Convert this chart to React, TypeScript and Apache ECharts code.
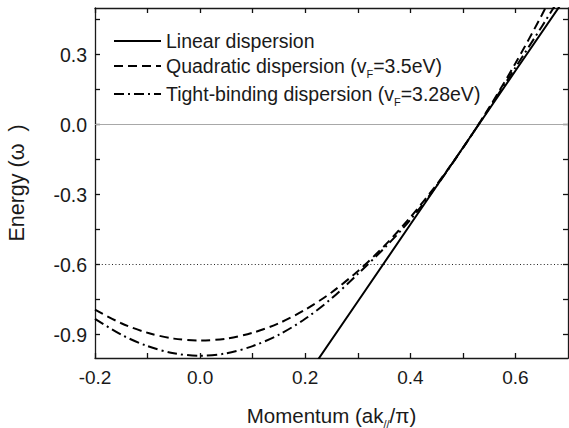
import React, { useEffect, useRef } from "react";
import * as echarts from "echarts";

const momentum = [-0.2, -0.15, -0.1, -0.05, 0, 0.05, 0.1, 0.15, 0.2, 0.25, 0.3, 0.35, 0.4, 0.45, 0.5, 0.55, 0.6, 0.65, 0.7];
const quadraticEnergy = [-0.793, -0.851, -0.892, -0.917, -0.925, -0.917, -0.892, -0.851, -0.793, -0.719, -0.628, -0.521, -0.397, -0.257, -0.1, 0.073, 0.263, 0.469, 0.692];
const tightBindingEnergy = [-0.832, -0.9, -0.949, -0.98, -0.99, -0.98, -0.949, -0.9, -0.832, -0.745, -0.64, -0.53, -0.408, -0.262, -0.1, 0.07, 0.245, 0.42, 0.6];
const linearMomentum = [0.2, 0.3, 0.4, 0.5, 0.6, 0.7];
const linearEnergy = [-1.087, -0.758, -0.428, -0.099, 0.231, 0.56];

const seriesNames = [
  "Linear dispersion",
  "Quadratic dispersion (vF=3.5eV)",
  "Tight-binding dispersion (vF=3.28eV)",
];

const xTickValues = [-0.2, -0.1, 0, 0.1, 0.2, 0.3, 0.4, 0.5, 0.6];
const xLabelValues = [-0.2, 0, 0.2, 0.4, 0.6];
const yTickValues = [-0.9, -0.75, -0.6, -0.45, -0.3, -0.15, 0, 0.15, 0.3, 0.45];
const yLabelValues = [-0.9, -0.6, -0.3, 0, 0.3];
const referenceLines = [0, -0.6];

const FONT = "'Liberation Sans', Arial, sans-serif";
const INK = "#1a1a1a";

export default function App() {
  const ref = useRef<HTMLDivElement>(null);
  useEffect(() => {
    if (!ref.current) return;
    const chart = echarts.init(ref.current, null, { renderer: "svg" });
    const zip = (xs: number[], ys: number[]) => xs.map((x, i) => [x, ys[i]]);
    const fmt = (v: number) => (Math.abs(v) < 1e-9 ? "0.0" : v.toFixed(1));
    const tickStyle = { show: true, inside: true, length: 5, lineStyle: { color: "#111", width: 1.3 } };
    const frameLine = { show: true, onZero: false, lineStyle: { color: INK, width: 1.3 } };

    chart.setOption({
      animation: false,
      backgroundColor: "#ffffff",
      grid: {
        left: 95,
        right: 1,
        top: 8,
        bottom: 70,
        outerBoundsMode: "none",
      },
      legend: {
        orient: "vertical",
        left: 113,
        top: 31,
        padding: 0,
        itemWidth: 47,
        itemHeight: 14,
        itemGap: 5,
        data: seriesNames,
        itemStyle: { opacity: 0 },
        formatter: (name: string) => name.replace("vF", "v{sub|F}"),
        textStyle: {
          fontFamily: FONT,
          fontSize: 19.5,
          color: INK,
          rich: {
            sub: { fontFamily: FONT, fontSize: 11, color: INK, verticalAlign: "bottom", lineHeight: 26 },
          },
        },
      },
      xAxis: [
        {
          type: "value",
          min: -0.2,
          max: 0.7,
          position: "bottom",
          axisLine: frameLine,
          splitLine: { show: false },
          axisTick: { ...tickStyle, customValues: xTickValues },
          axisLabel: {
            customValues: xLabelValues,
            formatter: fmt,
            fontFamily: FONT,
            fontSize: 19,
            color: INK,
            margin: 10,
          },
          name: "Momentum (ak{sub|//}/π)",
          nameLocation: "middle",
          nameGap: 43,
          nameTextStyle: {
            fontFamily: FONT,
            fontSize: 20.5,
            color: INK,
            rich: {
              sub: { fontFamily: FONT, fontSize: 11, color: INK, verticalAlign: "bottom", lineHeight: 28 },
            },
          },
        },
        {
          type: "value",
          min: -0.2,
          max: 0.7,
          position: "top",
          axisLine: frameLine,
          splitLine: { show: false },
          axisTick: { ...tickStyle, customValues: xTickValues },
          axisLabel: { show: false },
        },
      ],
      yAxis: [
        {
          type: "value",
          min: -1.0,
          max: 0.5,
          position: "left",
          axisLine: frameLine,
          splitLine: { show: false },
          axisTick: { ...tickStyle, customValues: yTickValues },
          axisLabel: {
            customValues: yLabelValues,
            formatter: fmt,
            fontFamily: FONT,
            fontSize: 19.5,
            color: INK,
            margin: 8,
          },
          name: "Energy (ω  )",
          nameLocation: "middle",
          nameRotate: 90,
          nameGap: 67,
          nameTextStyle: { fontFamily: FONT, fontSize: 21.5, color: INK },
        },
        {
          type: "value",
          min: -1.0,
          max: 0.5,
          position: "right",
          axisLine: frameLine,
          splitLine: { show: false },
          axisTick: { ...tickStyle, customValues: yTickValues },
          axisLabel: { show: false },
        },
      ],
      series: [
        {
          name: seriesNames[0],
          type: "line",
          symbol: "none",
          data: zip(linearMomentum, linearEnergy),
          lineStyle: { color: "#000", width: 2, type: "solid" },
          itemStyle: { color: "#000" },
          z: 3,
          markLine: {
            silent: true,
            symbol: "none",
            label: { show: false },
            z: 1,
            data: [
              { yAxis: referenceLines[0], lineStyle: { color: "#a8a8a8", width: 1, type: "solid" } },
              { yAxis: referenceLines[1], lineStyle: { color: "#222", width: 1, type: [1, 2.4] } },
            ],
          },
        },
        {
          name: seriesNames[1],
          type: "line",
          symbol: "none",
          smooth: 0.3,
          data: zip(momentum, quadraticEnergy),
          lineStyle: { color: "#000", width: 2, type: [9, 5] },
          itemStyle: { color: "#000" },
          z: 3,
        },
        {
          name: seriesNames[2],
          type: "line",
          symbol: "none",
          smooth: 0.3,
          data: zip(momentum, tightBindingEnergy),
          lineStyle: { color: "#000", width: 2, type: [10, 4, 2, 4] },
          itemStyle: { color: "#000" },
          z: 3,
        },
      ],
    });
    return () => chart.dispose();
  }, []);
  return <div ref={ref} style={{ position: "fixed", left: 0, top: 0, width: 569, height: 428 }} />;
}
